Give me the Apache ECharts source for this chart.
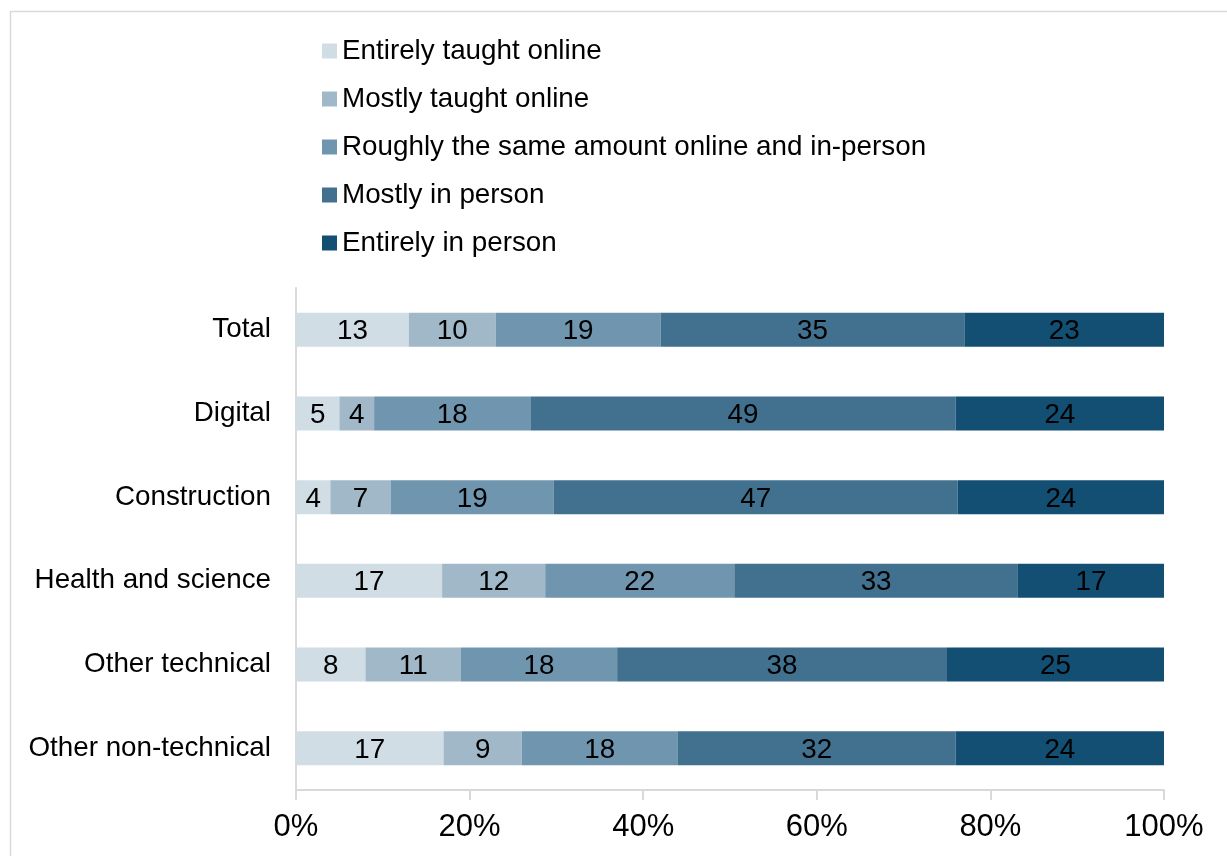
<!DOCTYPE html>
<html>
<head>
<meta charset="utf-8">
<script src="https://cdn.jsdelivr.net/npm/echarts@6/dist/echarts.min.js"></script>
<style>
  html, body { margin: 0; padding: 0; background: #fff; }
  #chart { width: 1227px; height: 856px; }
</style>
</head>
<body>
<div id="chart"></div>
<script>
// Sectors (top to bottom)
const categories = ['Total', 'Digital', 'Construction', 'Health and science', 'Other technical', 'Other non-technical'];

// Share of teaching by delivery mode (%), one array per mode
const entirelyOnline = [13, 5, 4, 17, 8, 17];
const mostlyOnline   = [10, 4, 7, 12, 11, 9];
const roughlySame    = [19, 18, 19, 22, 18, 18];
const mostlyInPerson = [35, 49, 47, 33, 38, 32];
const entirelyInPerson = [23, 24, 24, 17, 25, 24];

const seriesNames = [
  'Entirely taught online',
  'Mostly taught online',
  'Roughly the same amount online and in-person',
  'Mostly in person',
  'Entirely in person'
];
const xTickValues = [0, 20, 40, 60, 80, 100];

const colors = ['#D0DDE5', '#A1B8C8', '#7095AE', '#41718F', '#124F73'];
const allSeries = [entirelyOnline, mostlyOnline, roughlySame, mostlyInPerson, entirelyInPerson];

// Each row is shown as a 100% stacked bar: segments scaled by the row total
const rowTotals = categories.map((_, i) => allSeries.reduce((s, arr) => s + arr[i], 0));

const font = 'Liberation Sans, Arial, sans-serif';

const chart = echarts.init(document.getElementById('chart'), null, { renderer: 'canvas' });

chart.setOption({
  animation: false,
  backgroundColor: '#fff',
  graphic: [{
    type: 'rect',
    shape: { x: 10.5, y: 11.5, width: 1400, height: 1000 },
    style: { fill: 'none', stroke: '#D9D9D9', lineWidth: 1.5 },
    silent: true
  }],
  legend: {
    orient: 'vertical',
    left: 317,
    top: 32,
    itemWidth: 15,
    itemHeight: 15,
    itemGap: 20,
    icon: 'rect',
    textStyle: { fontFamily: font, fontSize: 27.8, color: '#000', lineHeight: 28 },
    data: seriesNames
  },
  grid: { left: 296, right: 63, top: 288, bottom: 66, containLabel: false },
  xAxis: {
    type: 'value',
    min: 0,
    max: 100,
    interval: 20,
    axisLine: { show: true, lineStyle: { color: '#D9D9D9', width: 2 } },
    axisTick: { show: true, length: 10, lineStyle: { color: '#D9D9D9', width: 2 } },
    splitLine: { show: false },
    axisLabel: {
      fontFamily: font, fontSize: 31, color: '#000', margin: 22,
      formatter: v => xTickValues.includes(v) ? v + '%' : ''
    }
  },
  yAxis: {
    type: 'category',
    inverse: true,
    data: categories,
    axisLine: { show: true, lineStyle: { color: '#D9D9D9', width: 2 } },
    axisTick: { show: false },
    axisLabel: { fontFamily: font, fontSize: 27.8, color: '#000', margin: 25, padding: [5, 0, 0, 0] }
  },
  series: allSeries.map((arr, si) => ({
    name: seriesNames[si],
    type: 'bar',
    stack: 'share',
    barWidth: 34,
    itemStyle: { color: colors[si] },
    label: {
      show: true,
      position: 'inside',
      offset: [0, 2],
      fontFamily: font,
      fontSize: 27.8,
      color: '#000',
      formatter: p => String(arr[p.dataIndex])
    },
    data: arr.map((v, i) => v / rowTotals[i] * 100)
  }))
});
</script>
</body>
</html>
